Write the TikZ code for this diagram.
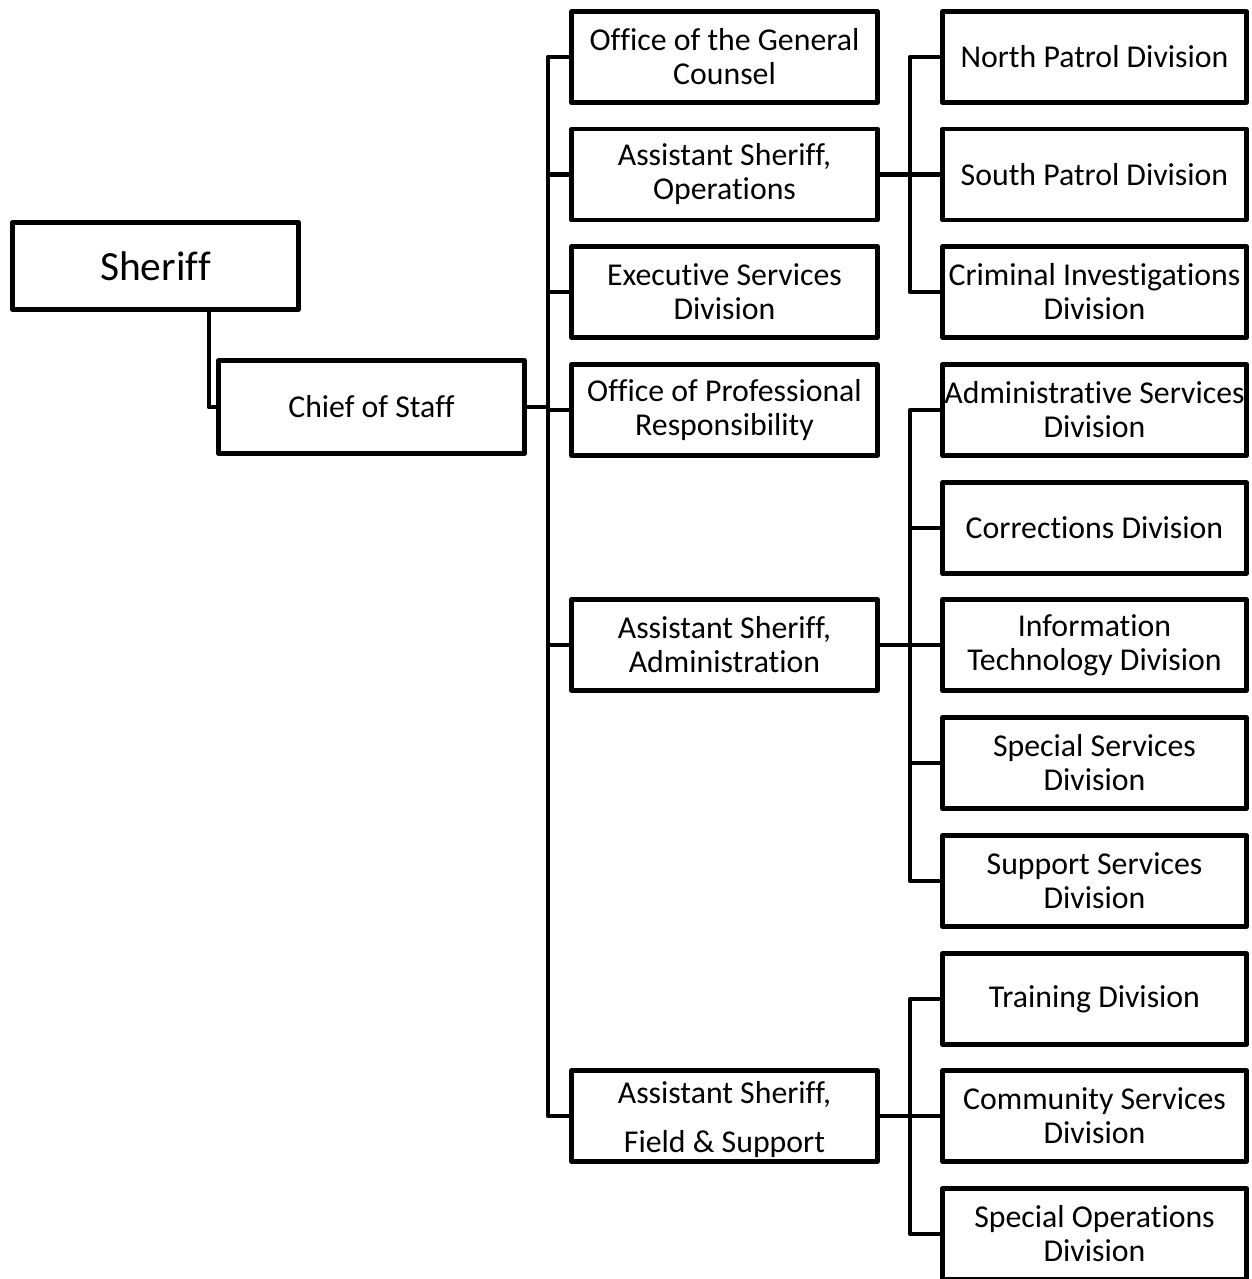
\documentclass[tikz,border=0pt]{standalone}
\usepackage{fontspec}
\setmainfont[RawFeature={-liga;-clig;-calt;-dlig;-rlig}]{Carlito}
% keeps letter pairs such as ff and ti apart
\newcommand\brk{\kern0pt}
\begin{document}
\begin{tikzpicture}[x=1pt,y=-1pt,
  box/.style={draw, line width=4.6pt, line join=round, minimum width=306pt, minimum height=91pt,
    align=center, inner sep=0pt, font=\fontsize{31.8}{34}\selectfont},
  rbox/.style={box, minimum width=304pt},
  link/.style={line width=4.6pt, line join=round, line cap=rect}]
\useasboundingbox (0,0) rectangle (1251,1279);
\clip (0,0) rectangle (1251,1279);

% top of the chart
\node[box, minimum width=286pt, minimum height=87pt, font=\fontsize{41.5}{46}\selectfont] (sheriff) at (155.5,266) {Sherif\brk f};
\node[box, minimum height=93pt] (chief) at (371.5,407) {Chief of Staf\brk f};

% units reporting to the Chief of Staff
\node[box] (gc)  at (724.5,57)    {Of\brk f\brk ice of the General\\Counsel};
\node[box] (ops) at (724.5,174.5) {Assistant Sherif\brk f,\\Operat\brk ions};
\node[box] (esd) at (724.5,292)   {Executive Services\\Division};
\node[box] (opr) at (724.5,410)   {Of\brk f\brk ice of Professional\\Responsibility};
\node[box] (adm) at (724.5,645)   {Assistant Sherif\brk f,\\Administrat\brk ion};
\node[box] (fs)  at (724.5,1116)  {\rule{0pt}{30pt}Assistant Sherif\brk f,\\[15pt]Field \& Support};

% divisions
\node[rbox] (np)  at (1094.5,57)    {North Patrol Division};
\node[rbox] (sp)  at (1094.5,174.5) {South Patrol Division};
\node[rbox] (ci)  at (1094.5,292)   {Criminal Investigat\brk ions\\Division};
\node[rbox] (asd) at (1094.5,410)   {Administrat\brk ive Services\\Division};
\node[rbox] (cor) at (1094.5,528)   {Correct\brk ions Division};
\node[rbox] (it)  at (1094.5,645)   {Informat\brk ion\\Technology Division};
\node[rbox] (ss)  at (1094.5,763)   {Special Services\\Division};
\node[rbox] (sup) at (1094.5,881)   {Support Services\\Division};
\node[rbox] (trn) at (1094.5,999)   {Training Division};
\node[rbox] (com) at (1094.5,1116)  {Community Services\\Division};
\node[rbox] (so)  at (1094.5,1234)  {Special Operat\brk ions\\Division};

% bus lines
\coordinate (bus)  at (548,0);
\coordinate (rbus) at (910,0);

\draw[link] ([xshift=53.5pt]sheriff.south) |- (chief.west);
\draw[link] (chief.east) -- (chief.east -| bus);
\draw[link] (gc.west) -| (fs.west -| bus) -- (fs.west);
\foreach \n in {ops,esd,opr,adm} \draw[link] (\n.west -| bus) -- (\n.west);

% operations group
\draw[link] (ops.east) -- (ops.east -| rbus);
\draw[link] (np.west) -| (ci.west -| rbus) -- (ci.west);
\draw[link] (sp.west -| rbus) -- (sp.west);

% administration group
\draw[link] (adm.east) -- (adm.east -| rbus);
\draw[link] (asd.west) -| (sup.west -| rbus) -- (sup.west);
\foreach \n in {cor,it,ss} \draw[link] (\n.west -| rbus) -- (\n.west);

% field and support group
\draw[link] (fs.east) -- (fs.east -| rbus);
\draw[link] (trn.west) -| (so.west -| rbus) -- (so.west);
\draw[link] (com.west -| rbus) -- (com.west);
\end{tikzpicture}
\end{document}
